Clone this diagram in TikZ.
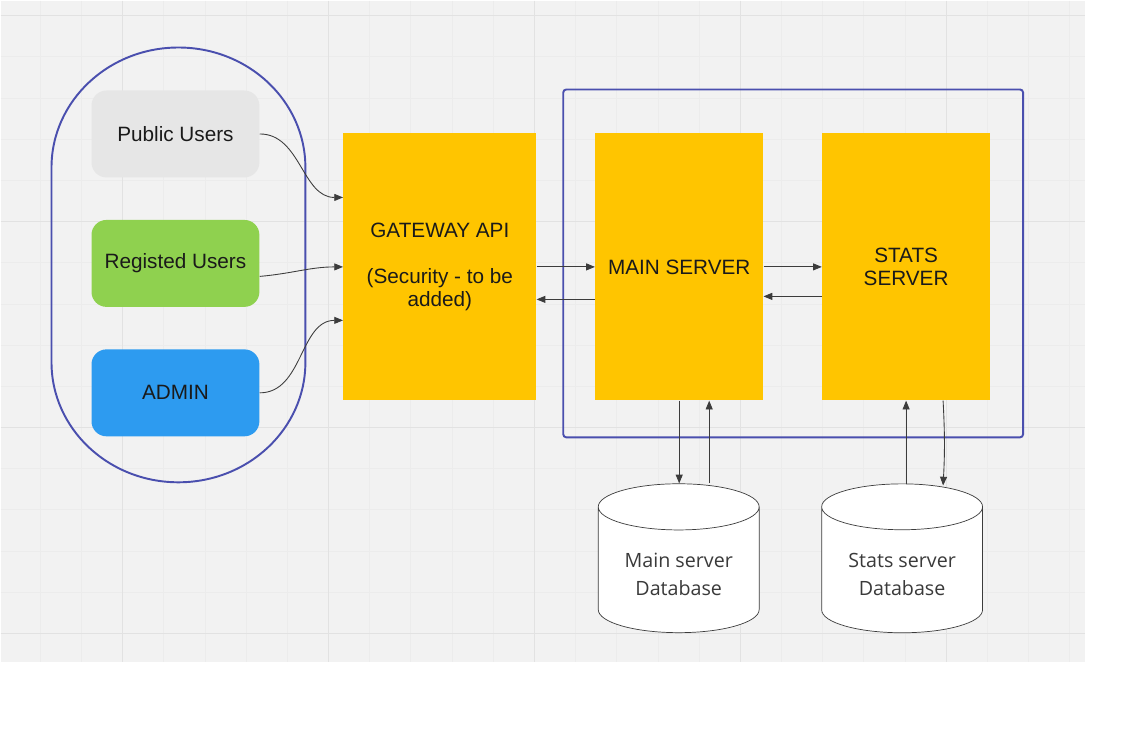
\documentclass[tikz,border=0pt]{standalone}
\usepackage{fontspec}
\setmainfont{Liberation Sans}
\newfontfamily\dbfont{Open Sans}
\usetikzlibrary{shapes.geometric,arrows.meta,calc}

\definecolor{gridbg}{HTML}{F2F2F2}
\definecolor{gridmajor}{HTML}{E2E2E2}
\definecolor{gridminor}{HTML}{ECECEC}
\definecolor{pubgrey}{HTML}{E6E6E6}
\definecolor{reggreen}{HTML}{8FD14F}
\definecolor{adminblue}{HTML}{2D9BF0}
\definecolor{yellowbox}{HTML}{FFC500}
\definecolor{groupblue}{HTML}{4A4FAE}
\definecolor{linegrey}{HTML}{3C3C3C}
\definecolor{textdark}{HTML}{1A1A1A}
\definecolor{dbtext}{HTML}{3A3A3A}

\begin{document}
\begin{tikzpicture}[x=0.02cm, y=-0.02cm]

\tikzstyle{box1}=[rectangle, rounded corners=0.3cm, minimum width=3.36cm, minimum height=1.74cm, text=textdark, font=\fontsize{11.8}{13.2}\selectfont]
\tikzstyle{box2}=[rectangle, fill=yellowbox, minimum height=5.34cm, align=center, text=textdark, font=\fontsize{11.8}{13.2}\selectfont]
\tikzstyle{box3}=[cylinder, shape border rotate=90, aspect=0.385, draw=linegrey, fill=white, minimum width=3.22cm, minimum height=2.98cm, align=center, text=dbtext, font=\dbfont\fontsize{11.2}{15.9}\selectfont]
\tikzstyle{arrow}=[-{Triangle[length=5pt,width=4pt]}, draw=linegrey, line width=0.5pt]
\tikzstyle{group}=[draw=groupblue, line width=1.1pt]

% background with grid
\fill[white] (0,0) rectangle (1132,736);
\fill[gridbg] (0,0) rectangle (1085,662);
\foreach \i in {0,...,25} \draw[gridminor, line width=0.3pt] ({39.6+41.2*\i},0) -- ({39.6+41.2*\i},662);
\foreach \i in {0,...,15} \draw[gridminor, line width=0.3pt] (0,{15+41.2*\i}) -- (1085,{15+41.2*\i});
\foreach \i in {0,...,4} \draw[gridmajor, line width=0.6pt] ({122+206*\i},0) -- ({122+206*\i},662);
\foreach \i in {0,...,3} \draw[gridmajor, line width=0.6pt] (0,{15+206*\i}) -- (1085,{15+206*\i});

% groups
\draw[group] (51,167) .. controls (51,100.7) and (107.9,47) .. (178,47)
  .. controls (248.1,47) and (305,100.7) .. (305,167) -- (305,362)
  .. controls (305,428.3) and (248.1,482) .. (178,482)
  .. controls (107.9,482) and (51,428.3) .. (51,362) -- cycle;
\draw[group, rounded corners=0.06cm] (563,89) rectangle (1023,437);

\node (A) [box1, fill=pubgrey]   at (175,133.5) {Public Users};
\node (B) [box1, fill=reggreen]  at (175,263)   {Registed Users};
\node (C) [box1, fill=adminblue] at (175,392.5) {ADMIN};

\node (D) [box2, minimum width=3.86cm] at (439.5,266.5) {GATEWAY API\\ \mbox{}\\(Security - to be\\added)};
\node (E) [box2, minimum width=3.36cm] at (679,266.5)   {MAIN SERVER};
\node (F) [box2, minimum width=3.36cm] at (906,266.5)   {STATS\\SERVER};

\node (G) [box3] at (678.5,574) {Main server\\Database};
\node (H) [box3] at (902,574)   {Stats server\\Database};

\draw [arrow] (A.east) to[out=0, in=180] ([yshift=1.39cm]D.west);
\draw [arrow] ([yshift=-0.26cm]B.east) to[out=5, in=180] (D.west);
\draw [arrow] (C.east) to[out=0, in=180] ([yshift=-1.07cm]D.west);
\draw [arrow] (D.east) -- (E.west);
\draw [arrow] ([yshift=-0.65cm]E.west) -- ([yshift=-0.65cm]D.east);
\draw [arrow] (E.east) -- (F.west);
\draw [arrow] ([yshift=-0.59cm]F.west) -- ([yshift=-0.59cm]E.east);
\draw [arrow] (E.south) -- (E.south |- G.north);
\draw [arrow] ($(E.south |- G.north)+(30,0)$) -- ($(E.south)+(30,0)$);
\draw [arrow] (F.south |- H.north) -- (F.south);
\draw [arrow] ($(F.south)+(37,0)$) to[bend left=3] ($(F.south |- H.north)+(37,2)$);

\end{tikzpicture}
\end{document}
